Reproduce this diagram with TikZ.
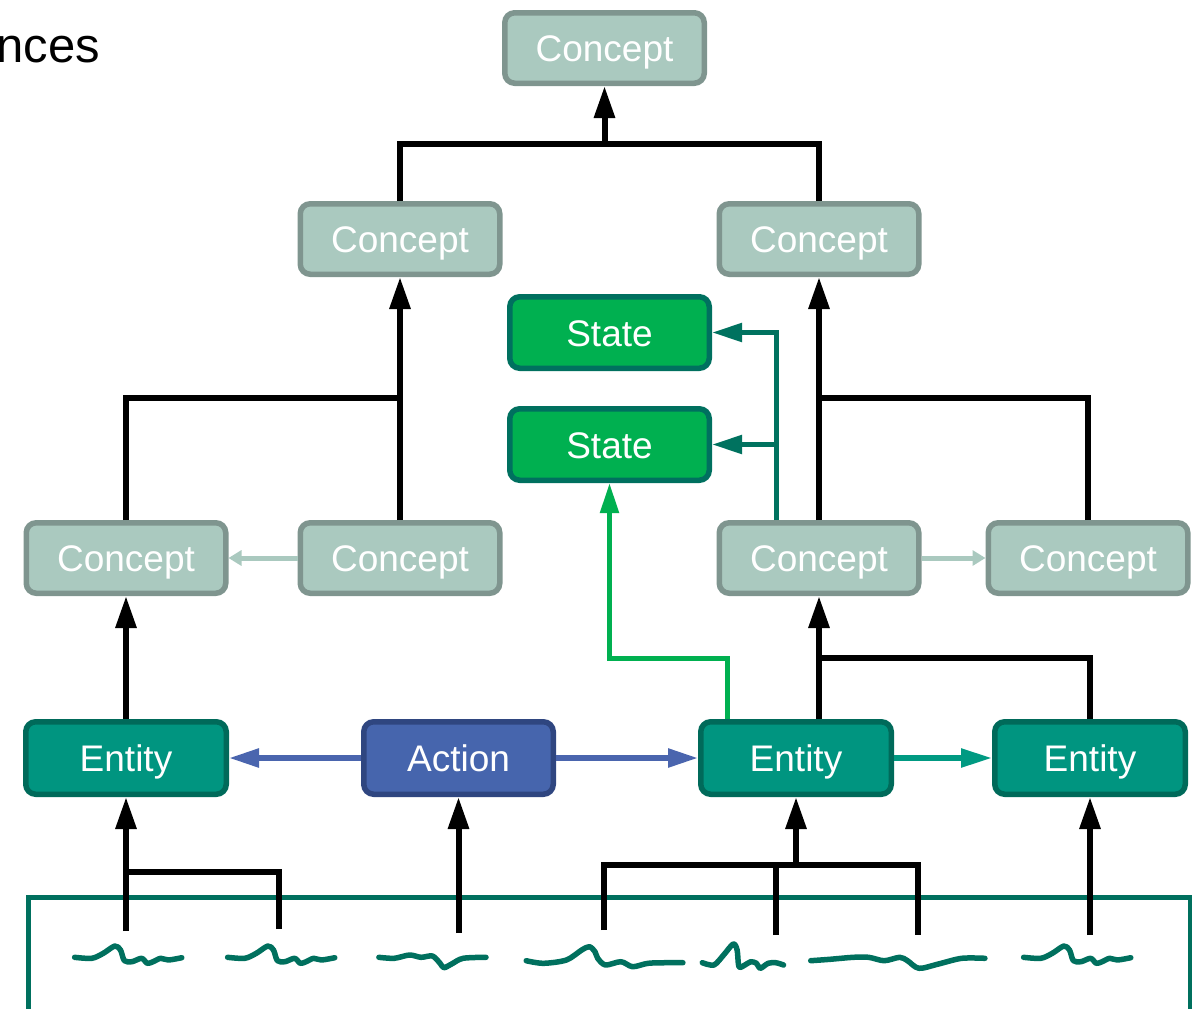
\documentclass[tikz,border=0pt]{standalone}
\usepackage{fontspec}
\setmainfont{Liberation Sans}
\usetikzlibrary{arrows.meta,calc}

\definecolor{conceptfill}{HTML}{AAC9BF}
\definecolor{conceptline}{HTML}{7F958F}
\definecolor{statefill}{HTML}{00B050}
\definecolor{stateline}{HTML}{00705F}
\definecolor{entityfill}{HTML}{009580}
\definecolor{entityline}{HTML}{006A5A}
\definecolor{actionfill}{HTML}{4665AD}
\definecolor{actionline}{HTML}{2F4680}
\definecolor{tealline}{HTML}{00725F}
\definecolor{greenline}{HTML}{00B050}
\definecolor{blueline}{HTML}{4A65AE}
\definecolor{linkline}{HTML}{009A82}
\definecolor{waveline}{HTML}{00705E}

\begin{document}
\begin{tikzpicture}[x=1pt,y=-1pt,
  box/.style={rounded corners=10pt, line width=5.5pt, inner sep=0pt,
    text=white, font=\fontsize{37}{44}\selectfont,
    text height=27pt, text depth=0pt},
  concept/.style={box, draw=conceptline, fill=conceptfill,
    minimum width=199.5pt, minimum height=70.5pt},
  state/.style={box, draw=stateline, fill=statefill,
    minimum width=199.5pt, minimum height=71.5pt},
  entity/.style={box, draw=entityline, fill=entityfill, minimum height=72.5pt},
  action/.style={box, draw=actionline, fill=actionfill, minimum height=72.5pt},
  tree/.style={draw=black, line width=6pt},
  treearrow/.style={tree, -{Triangle[length=32pt,width=20pt]}},
  stateto/.style={draw=tealline, line width=5pt, -{Triangle[length=30pt,width=18pt]}},
  greento/.style={draw=greenline, line width=5pt, -{Triangle[length=30pt,width=18pt]}},
  acts/.style={draw=blueline, line width=5.5pt, -{Triangle[length=30pt,width=18pt]}},
  linkto/.style={draw=linkline, line width=5.5pt, -{Triangle[length=31pt,width=18pt]}},
  similar/.style={draw=conceptfill, line width=5pt, -{Triangle[length=13pt,width=15pt]}},
  wave/.style={draw=waveline, line width=5.5pt, line cap=round, line join=round}
]
\useasboundingbox (0,0) rectangle (1197,1009);
\clip (0,0) rectangle (1197,1009);

% heading fragment at the left edge
\node[anchor=base west, inner sep=0pt, font=\fontsize{49}{58}\selectfont] (title) at (-3.5,62) {nces};

% concept hierarchy
\node[concept] (c0) at (604.5,48) {Concept};
\node[concept] (c1) at (400,239) {Concept};
\node[concept] (c2) at (819,239) {Concept};
\node[concept] (c3) at (126,558) {Concept};
\node[concept] (c4) at (400,558) {Concept};
\node[concept] (c5) at (819,558) {Concept};
\node[concept] (c6) at (1088,558) {Concept};

% states
\node[state] (s1) at (609.5,332.5) {State};
\node[state] (s2) at (609.5,444.5) {State};

% entities and action
\node[entity, minimum width=200.5pt] (e1) at (126,758) {Entity};
\node[action, minimum width=189.5pt] (a1) at (458.5,758) {Action};
\node[entity, minimum width=190.5pt] (e2) at (796,758) {Entity};
\node[entity, minimum width=190.5pt] (e3) at (1090,758) {Entity};

% junction points of the trees
\coordinate (j0) at (604.5,144);
\coordinate (j1) at (400,398);
\coordinate (j2) at (819,398);
\coordinate (j3) at (819,658);
\coordinate (j4) at (126,872);
\coordinate (j5) at (796,865);

% top level
\draw[tree] (c1.north) |- (j0) -| (c2.north);
\draw[treearrow] (j0) -- (c0.south);

% left branch
\draw[tree] (c3.north) |- (j1);
\draw[tree] (c4.north) -- (j1);
\draw[treearrow] (j1) -- (c1.south);

% right branch
\draw[tree] (c5.north) -- (j2);
\draw[tree] (c6.north) |- (j2);
\draw[treearrow] (j2) -- (c2.south);

% concept to states
\coordinate (tb) at ($(c5.north)+(-43,0)$);
\draw[stateto] (tb) |- (s1.east);
\draw[stateto] (tb |- s2.east) -- (s2.east);

% similarity links between concepts
\draw[similar] (c4.west) -- (c3.east);
\draw[similar] (c5.east) -- (c6.west);

% entities to concepts
\draw[treearrow] (e1.north) -- (c3.south);
\draw[tree] (e3.north) |- (j3);
\draw[treearrow] (e2.north -| c5.south) -- (c5.south);

% entity to state
\coordinate (gb) at ($(e2.north)+(-69,0)$);
\draw[greento] (gb) -- ($(gb)+(0,-61)$) -| (s2.south);

% action and relation links
\draw[acts] (a1.west) -- (e1.east);
\draw[acts] (a1.east) -- (e2.west);
\draw[linkto] (e2.east) -- (e3.west);

% input panel
\draw[draw=waveline, line width=4.5pt] (28.7,1030) -- (28.7,897.7) -- (1190,897.7) -- (1190,1030);

% lower ends of the input lines
\coordinate (w1) at (126,931);
\coordinate (w2) at (279,929);
\coordinate (w3) at (458.5,933);
\coordinate (w4) at (603.5,930);
\coordinate (w5) at (776,935);
\coordinate (w6) at (918,935);
\coordinate (w7) at (1090,935);

\draw[treearrow] (w1) -- (e1.south);
\draw[tree] (w2) |- (j4);
\draw[treearrow] (w3) -- (a1.south);
\draw[tree] (w4) |- (j5) -| (w6);
\draw[tree] (w5) -- (w5 |- j5);
\draw[treearrow] (j5) -- (e2.south);
\draw[treearrow] (w7) -- (e3.south);

% handwritten word traces
\def\wordA{(74.6,957.3) (91.8,958.3) (103.3,953.3) (114.8,946) (120.5,950) (124.4,960.7) (132,961.7) (141.6,958.3) (147.3,963.3) (153.1,961.7) (160.7,958.3) (168.4,960) (181.8,957.7)}
\draw[wave] plot[smooth, tension=0.5] coordinates {\wordA};
\draw[wave, shift={(153,0)}] plot[smooth, tension=0.5] coordinates {\wordA};
\draw[wave] plot[smooth, tension=0.5] coordinates {(378.9,957.3) (394.2,958.3) (409.5,955) (421,957.3) (432.5,956) (440.1,963.3) (443.9,967.7) (451.6,964) (463.1,958.3) (486,957.3)};
\draw[wave] plot[smooth, tension=0.5] coordinates {(526.2,960.7) (543.4,963.3) (566.4,960) (581.7,950) (589.4,946.7) (595,951.7) (597.7,958.3) (605.5,965) (621,961.7) (632.6,966.7) (648,963.3) (667.4,962.7) (682.9,962.7)};
\draw[wave] plot[smooth, tension=0.5] coordinates {(702.3,962.7) (713.9,965) (723.6,955) (733.2,944) (737.1,950) (739,966.7) (744.9,965) (750.7,961.7) (756.5,963.3) (760.3,968.3) (768.1,963.3) (775.8,962.7) (783.6,965)};
\draw[wave] plot[smooth, tension=0.5] coordinates {(810.7,960.7) (830,959.3) (853.3,957.3) (868.7,957.3) (884.2,960.7) (899.7,957.3) (907.5,960.7) (919,968.3) (938.4,964) (961.7,958.3) (984.9,958.3)};
\draw[wave, shift={(949,0)}] plot[smooth, tension=0.5] coordinates {\wordA};
\end{tikzpicture}
\end{document}
